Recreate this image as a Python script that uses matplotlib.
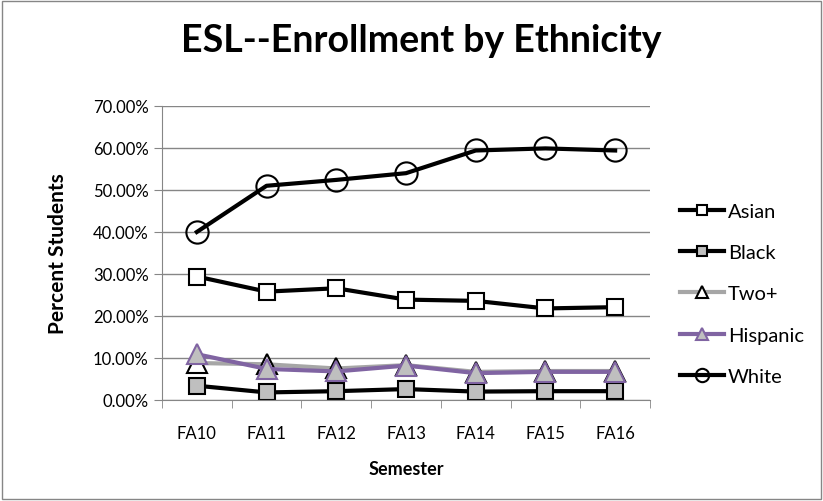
import matplotlib.pyplot as plt
from matplotlib.patches import Rectangle
from matplotlib.ticker import FuncFormatter

plt.rcParams['font.family'] = ['Lato', 'DejaVu Sans']

semesters = ['FA10', 'FA11', 'FA12', 'FA13', 'FA14', 'FA15', 'FA16']
asian = [29.4, 25.8, 26.6, 23.9, 23.6, 21.8, 22.1]
black = [3.4, 1.8, 2.1, 2.6, 2.0, 2.1, 2.1]
two_plus = [8.8, 8.5, 7.5, 8.3, 6.7, 6.9, 6.9]
hispanic = [10.9, 7.4, 6.8, 8.2, 6.4, 6.7, 6.7]
white = [40.0, 51.0, 52.4, 54.0, 59.4, 59.9, 59.4]

fig = plt.figure(figsize=(8.23, 5.02), dpi=100)
ax = fig.add_axes([0.1968, 0.2012, 0.593, 0.5857])

x = list(range(len(semesters)))
series = [
    ('Asian', asian, dict(color='black', marker='s', markersize=12, markerfacecolor='white', markeredgecolor='black')),
    ('Black', black, dict(color='black', marker='s', markersize=12, markerfacecolor='#bfbfbf', markeredgecolor='black')),
    ('Two+', two_plus, dict(color='#a6a6a6', marker='^', markersize=14, markerfacecolor='white', markeredgecolor='black')),
    ('Hispanic', hispanic, dict(color='#8064a2', marker='^', markersize=14, markerfacecolor='#bfbfbf', markeredgecolor='#8064a2')),
    ('White', white, dict(color='black', marker='o', markersize=16, markerfacecolor='none', markeredgecolor='black')),
]
for name, vals, style in series:
    ax.plot(x, vals, linewidth=3, markeredgewidth=1.5, label=name, **style)

ax.set_xlim(-0.5, len(semesters) - 0.5)
ax.set_ylim(0, 70)
ax.set_yticks(range(0, 71, 10))
ax.yaxis.set_major_formatter(FuncFormatter(lambda v, p: f'{v:.2f}%'))
ax.set_xticks(x)
ax.set_xticklabels(semesters)
ax.set_xticks([i - 0.5 for i in range(len(semesters) + 1)], minor=True)
ax.tick_params(axis='x', which='major', length=0, pad=18, labelsize=12)
ax.tick_params(axis='x', which='minor', length=6, color='#868686')
ax.tick_params(axis='y', length=6, color='#868686', labelsize=12)
ax.grid(axis='y', color='#868686', linewidth=1)
ax.set_axisbelow(True)
for s in ['top', 'right']:
    ax.spines[s].set_visible(False)
for s in ['left', 'bottom']:
    ax.spines[s].set_color('#868686')

ax.set_ylabel('Percent Students', fontsize=15, fontweight='bold', labelpad=18)
ax.set_xlabel('Semester', fontsize=13, fontweight='bold', labelpad=14)
fig.text(0.512, 0.918, 'ESL--Enrollment by Ethnicity', ha='center', va='center',
         fontsize=27, fontweight='bold')

fig.legend(loc='upper left', bbox_to_anchor=(0.826, 0.594), frameon=False,
           borderpad=0, borderaxespad=0,
           fontsize=14.5, markerscale=0.6, handlelength=2.2, labelspacing=1.2,
           handletextpad=0.2)

fig.add_artist(Rectangle((0.002, 0.003), 0.996, 0.994, transform=fig.transFigure,
                         fill=False, edgecolor='#868686', linewidth=1))

fig.savefig('out.png', dpi=100)
